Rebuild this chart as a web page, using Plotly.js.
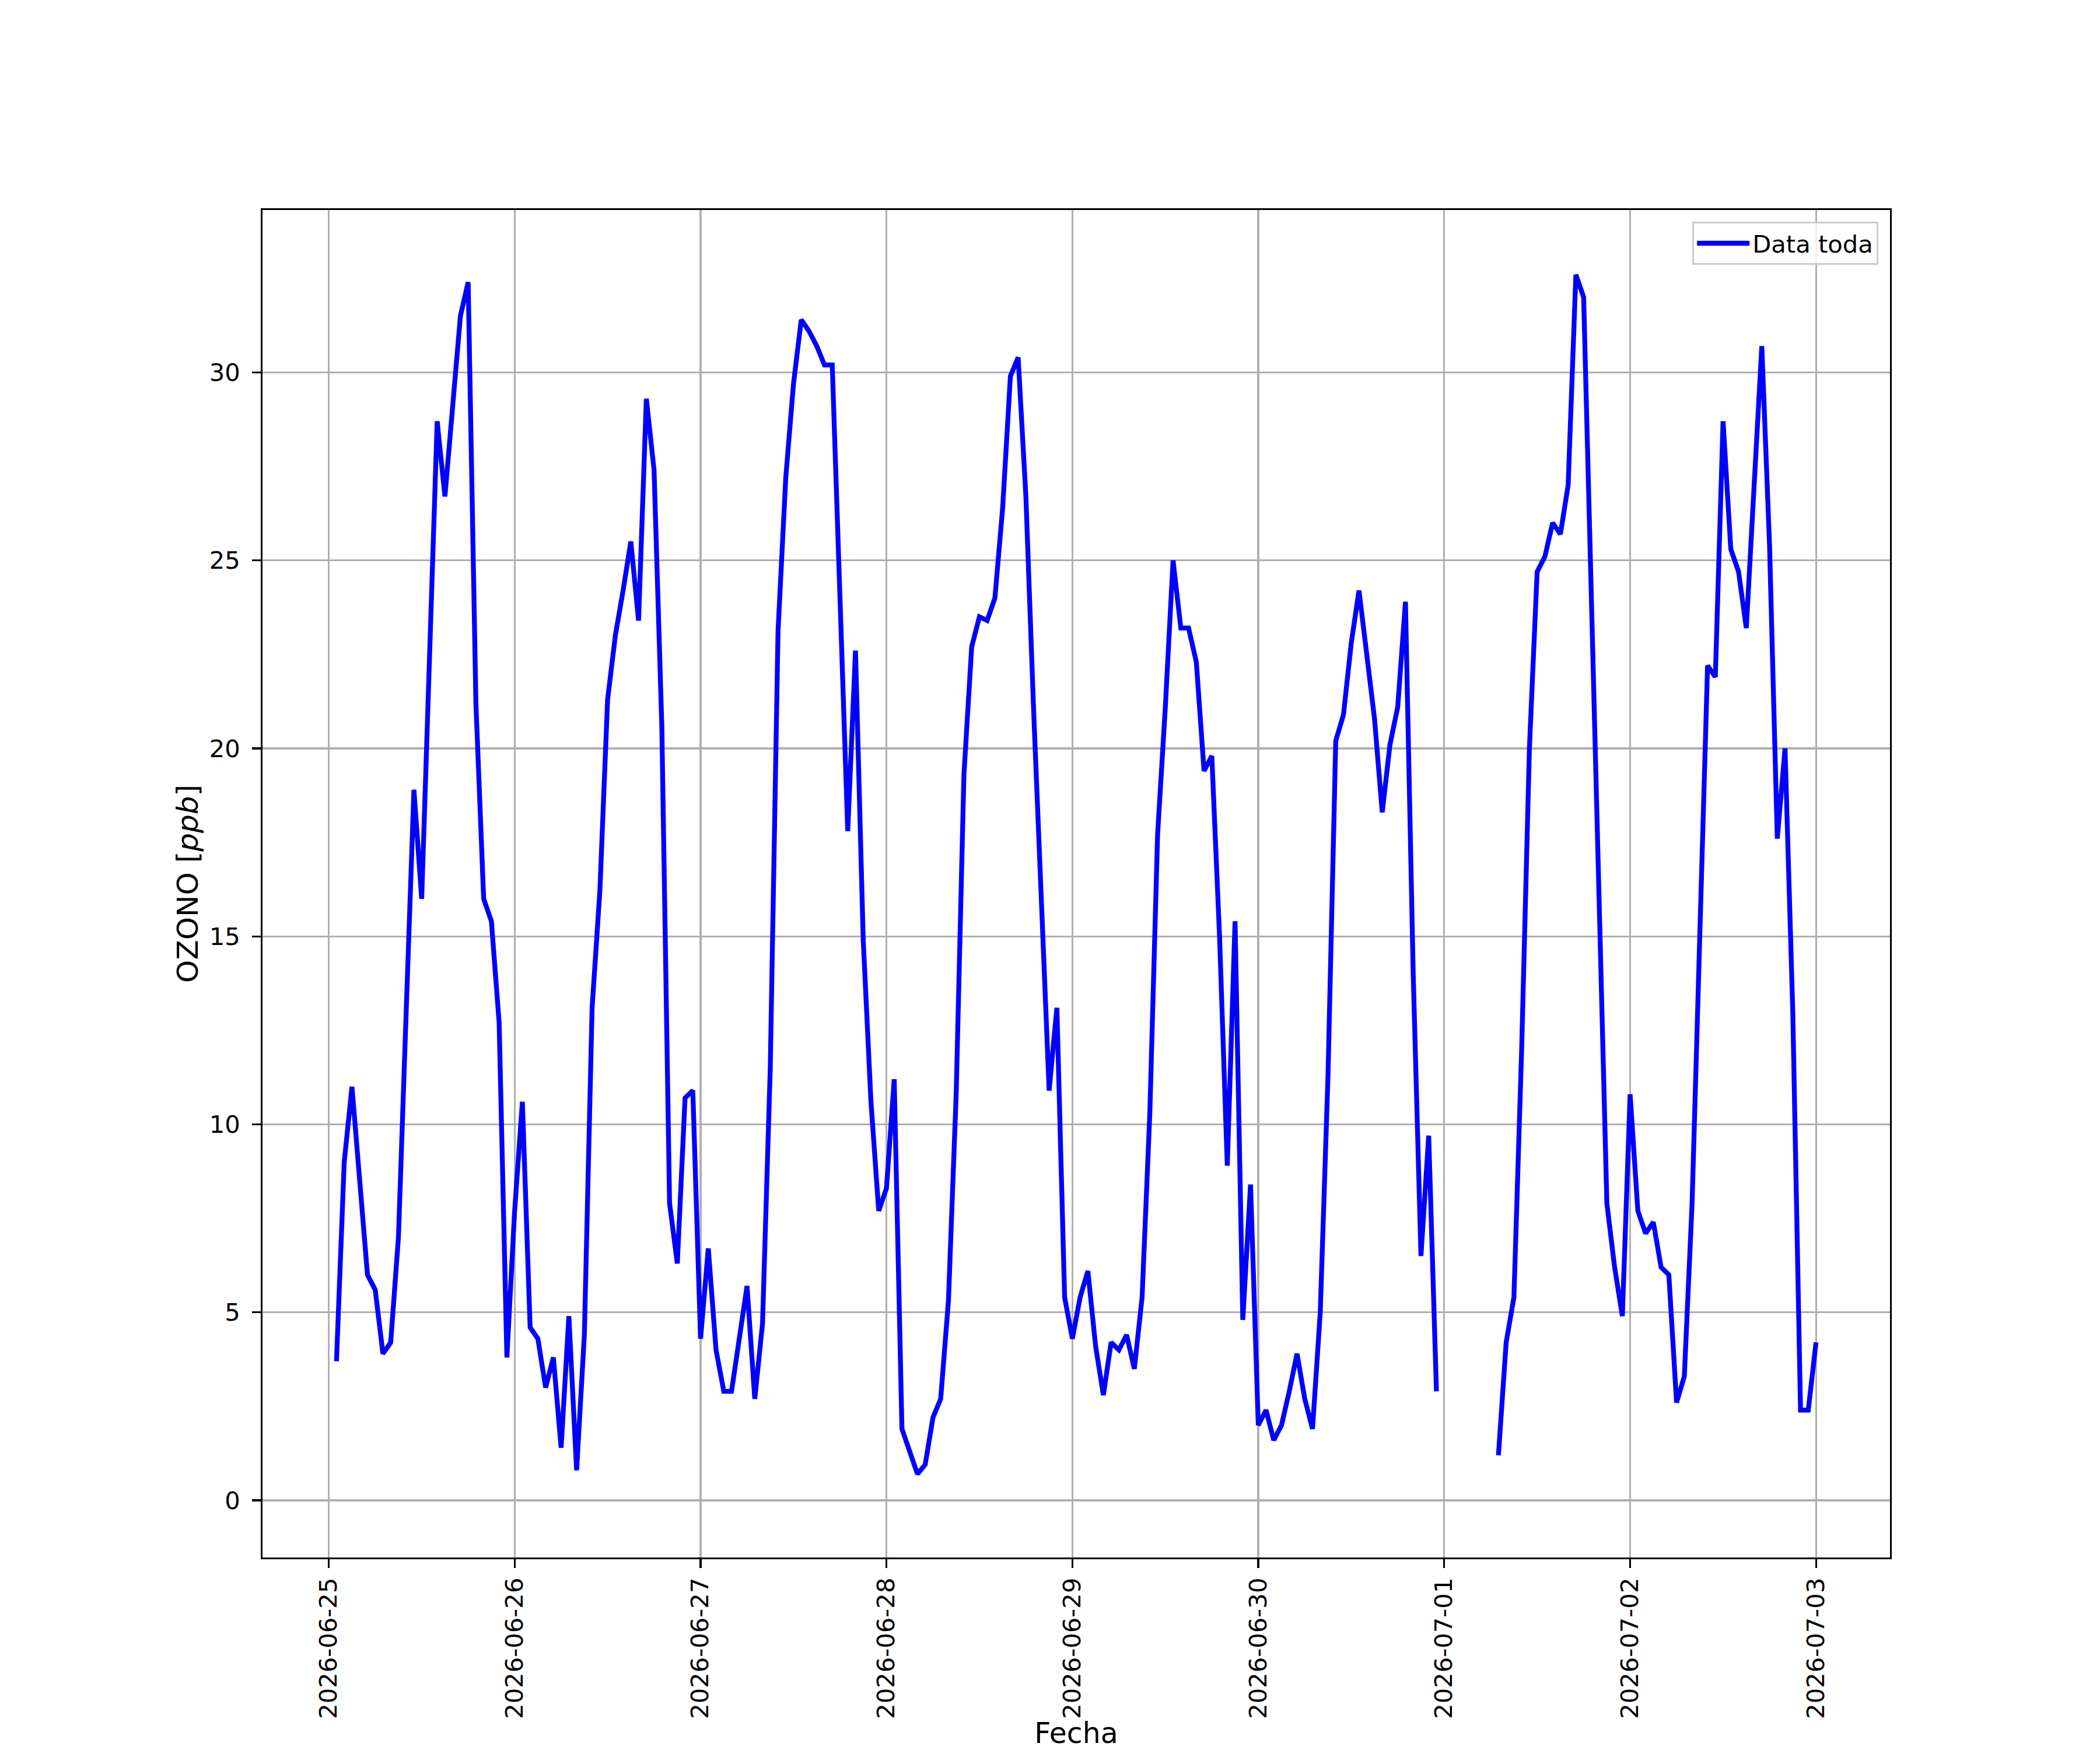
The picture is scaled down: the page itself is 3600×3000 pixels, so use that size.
<!DOCTYPE html>
<html>
<head>
<meta charset="utf-8">
<script src="https://cdn.plot.ly/plotly-3.0.1.min.js"></script>
<style>
  html, body { margin: 0; padding: 0; background: #ffffff; }
  #chart { width: 3600px; height: 3000px; }
</style>
</head>
<body>
<div id="chart"></div>
<script>
// Hourly ozone values (ppb), one array per day, hour 00 .. 23
const days = ['2026-06-25', '2026-06-26', '2026-06-27', '2026-06-28',
              '2026-06-29', '2026-06-30', '2026-07-01', '2026-07-02', '2026-07-03'];

const o3_0625 = [null, 3.7, 9.0, 11.0, 8.3, 6.0, 5.6, 3.9, 4.2, 7.0, 13.0, 18.9,
                 16.0, 22.5, 28.7, 26.7, 29.3, 31.5, 32.4, 21.2, 16.0, 15.4, 12.7, 3.8];
const o3_0626 = [7.7, 10.6, 4.6, 4.3, 3.0, 3.8, 1.4, 4.9, 0.8, 4.4, 13.1, 16.2,
                 21.3, 23.0, 24.2, 25.5, 23.4, 29.3, 27.4, 20.6, 7.9, 6.3, 10.7, 10.9];
const o3_0627 = [4.3, 6.7, 4.0, 2.9, 2.9, 4.3, 5.7, 2.7, 4.7, 11.5, 23.1, 27.2,
                 29.7, 31.4, 31.1, 30.7, 30.2, 30.2, 23.7, 17.8, 22.6, 14.9, 10.6, 7.7];
const o3_0628 = [8.3, 11.2, 1.9, 1.25, 0.7, 0.95, 2.2, 2.7, 5.3, 10.8, 19.3, 22.7,
                 23.5, 23.4, 24.0, 26.4, 29.9, 30.4, 26.7, 21.0, 16.0, 10.9, 13.1, 5.4];
const o3_0629 = [4.3, 5.4, 6.1, 4.1, 2.8, 4.2, 4.0, 4.4, 3.5, 5.4, 10.3, 17.7,
                 21.1, 25.0, 23.2, 23.2, 22.3, 19.4, 19.8, 15.0, 8.9, 15.4, 4.8, 8.4];
const o3_0630 = [2.0, 2.4, 1.6, 2.0, 2.9, 3.9, 2.7, 1.9, 5.0, 11.3, 20.2, 20.9,
                 22.8, 24.2, 22.5, 20.8, 18.3, 20.1, 21.1, 23.9, 14.0, 6.5, 9.7, 2.9];
const o3_0701 = [null, null, null, null, null, null, null, 1.2, 4.2, 5.4, 12.0, 20.0,
                 24.7, 25.1, 26.0, 25.7, 27.0, 32.6, 32.0, 24.0, 16.0, 7.9, 6.2, 4.9];
const o3_0702 = [10.8, 7.7, 7.1, 7.4, 6.2, 6.0, 2.6, 3.3, 7.9, 14.7, 22.2, 21.9,
                 28.7, 25.3, 24.7, 23.2, 27.2, 30.7, 25.4, 17.6, 20.0, 13.0, 2.4, 2.4];
const o3_0703 = [4.2];

const dayValues = [o3_0625, o3_0626, o3_0627, o3_0628, o3_0629,
                   o3_0630, o3_0701, o3_0702, o3_0703];

const seriesName = 'Data toda';
const xTitle = 'Fecha';
const yTitle = 'OZONO [<i>ppb</i>]';

// Build the time series table (leading missing hour of the first day dropped)
const xs = [];
const ys = [];
dayValues.forEach((vals, d) => {
  vals.forEach((v, h) => {
    if (xs.length === 0 && v === null) return;
    xs.push(days[d] + ' ' + String(h).padStart(2, '0') + ':00');
    ys.push(v);
  });
});

const trace = {
  x: xs,
  y: ys,
  type: 'scatter',
  mode: 'lines',
  name: seriesName,
  connectgaps: false,
  line: { color: '#0000ff', width: 8.3 },
  showlegend: true
};

const axisCommon = {
  showgrid: true,
  gridcolor: '#b0b0b0',
  gridwidth: 3.3,
  showline: true,
  mirror: true,
  linecolor: '#000000',
  linewidth: 3.3,
  ticks: 'outside',
  ticklen: 14.6,
  tickwidth: 3.3,
  tickcolor: '#000000',
  zeroline: false,
  automargin: false,
  tickfont: { family: 'DejaVu Sans', size: 41.7, color: '#000000' }
};

const layout = {
  width: 3600,
  height: 3000,
  margin: { l: 450, r: 360, t: 360, b: 330, pad: 0, autoexpand: false },
  paper_bgcolor: '#ffffff',
  plot_bgcolor: '#ffffff',
  font: { family: 'DejaVu Sans', size: 41.7, color: '#000000' },
  showlegend: true,
  legend: {
    x: 0.9928, xanchor: 'right',
    y: 0.9913, yanchor: 'top',
    bgcolor: 'rgba(255,255,255,0.8)',
    bordercolor: '#cccccc',
    borderwidth: 3.3,
    font: { family: 'DejaVu Sans', size: 41.7, color: '#000000' },
    itemwidth: 90
  },
  xaxis: Object.assign({}, axisCommon, {
    type: 'date',
    range: ['2026-06-24 15:27', '2026-07-03 09:33'],
    tickmode: 'linear',
    tick0: '2026-06-25',
    dtick: 86400000,
    tickformat: '%Y-%m-%d',
    tickangle: -90,
    ticklabelstandoff: 0,
    title: { text: xTitle, font: { family: 'DejaVu Sans', size: 49, color: '#000000' }, standoff: 56 }
  }),
  yaxis: Object.assign({}, axisCommon, {
    range: [-1.52, 34.32],
    tickmode: 'linear',
    tick0: 0,
    dtick: 5,
    ticklabelstandoff: 12,
    title: { text: yTitle, font: { family: 'DejaVu Sans', size: 50, color: '#000000' }, standoff: 4 }
  })
};

Plotly.newPlot('chart', [trace], layout, { staticPlot: true, displayModeBar: false });
</script>
</body>
</html>
